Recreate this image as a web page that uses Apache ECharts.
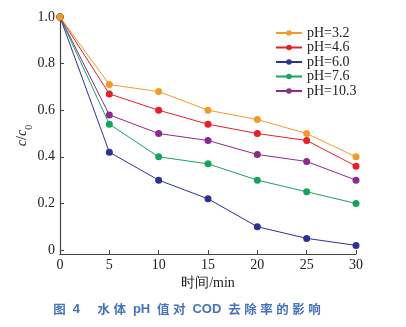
<!DOCTYPE html>
<html>
<head>
<meta charset="utf-8">
<script src="https://cdn.jsdelivr.net/npm/echarts@6/dist/echarts.min.js"></script>
<style>
  html, body { margin: 0; padding: 0; background: #fff; }
  #chart { width: 406px; height: 327px; }
</style>
</head>
<body>
<div id="chart"></div>
<script>
// Reaction time (min)
const times = [0, 5, 10, 15, 20, 25, 30];
// Relative COD concentration c/c0 at each pH
const ph32 = [1.0, 0.71, 0.68, 0.60, 0.56, 0.50, 0.40];
const ph46 = [1.0, 0.67, 0.60, 0.54, 0.50, 0.47, 0.36];
const ph60 = [1.0, 0.42, 0.30, 0.22, 0.10, 0.05, 0.02];
const ph76 = [1.0, 0.54, 0.40, 0.37, 0.30, 0.25, 0.20];
const ph103 = [1.0, 0.58, 0.50, 0.47, 0.41, 0.38, 0.30];
const seriesNames = ['pH=3.2', 'pH=4.6', 'pH=6.0', 'pH=7.6', 'pH=10.3'];
const seriesValues = [ph32, ph46, ph60, ph76, ph103];
const colors = ['#f39a2c', '#e42127', '#2d3192', '#17a35e', '#8b2a90'];
const xTicks = [0, 5, 10, 15, 20, 25, 30];
const yTicks = [0, 0.2, 0.4, 0.6, 0.8, 1.0];
const caption = '图 4    水体 pH 值对 COD 去除率的影响';

const serif = '"Liberation Serif", "DejaVu Serif", serif';
const chart = echarts.init(document.getElementById('chart'), null, { renderer: 'canvas' });

// Caption: CJK glyphs are spread apart one by one, Latin runs stay together.
const spacedCaption = (caption.match(/[\u4e00-\u9fff]|[^\u4e00-\u9fff]+/g) || [])
  .map(part => (/[\u4e00-\u9fff]/.test(part) ? '{c|' + part + '}' : '{l|' + part + '}'))
  .join('');

const series = seriesNames.map((name, i) => ({
  name,
  type: 'line',
  data: times.map((t, j) => [t, seriesValues[i][j]]),
  symbol: 'circle',
  symbolSize: 7,
  lineStyle: { width: 1, color: colors[i] },
  itemStyle: { color: colors[i] },
  z: 10 - i
}));

chart.setOption({
  animation: false,
  backgroundColor: '#fff',
  title: {
    text: spacedCaption,
    left: 182,
    textAlign: 'center',
    top: 298,
    textStyle: {
      rich: {
        c: {
          fontFamily: '"Noto Sans CJK SC", sans-serif',
          fontSize: 12.5,
          fontWeight: 'bold',
          color: '#4572b8',
          padding: [0, 1.75, 0, 1.75]
        },
        l: {
          fontFamily: '"Liberation Sans", Arial, sans-serif',
          fontSize: 13,
          color: '#4572b8',
          padding: [0, 1.5, 0, 1.5]
        }
      }
    }
  },
  legend: {
    data: seriesNames,
    orient: 'vertical',
    left: 275,
    top: 26,
    padding: 0,
    itemWidth: 26,
    itemHeight: 7,
    itemGap: 0.5,
    textStyle: { fontFamily: serif, fontSize: 14, color: '#222' }
  },
  grid: { left: 60, right: 50, top: 17, bottom: 73, containLabel: false, outerBoundsMode: 'none' },
  xAxis: {
    type: 'value',
    min: 0,
    max: 30,
    name: '时间/min',
    nameLocation: 'middle',
    nameGap: 22,
    nameMoveOverlap: false,
    nameTextStyle: { fontFamily: serif, fontSize: 14, color: '#222' },
    axisLine: { onZero: false, lineStyle: { color: '#444', width: 1.2 } },
    axisTick: { inside: true, length: 4, customValues: xTicks, lineStyle: { color: '#444' } },
    axisLabel: { customValues: xTicks, fontFamily: serif, fontSize: 14, color: '#222', margin: 4 },
    splitLine: { show: false }
  },
  yAxis: {
    type: 'value',
    min: -0.017,
    max: 1.0,
    name: '{i|c}/{i|c}{s|0}',
    nameLocation: 'middle',
    nameGap: 31,
    nameMoveOverlap: false,
    nameRotate: 90,
    nameTextStyle: {
      fontFamily: serif,
      fontSize: 14,
      color: '#222',
      rich: {
        i: { fontFamily: serif, fontStyle: 'italic', fontSize: 14, color: '#222' },
        s: { fontFamily: serif, fontSize: 10, color: '#222', verticalAlign: 'bottom', padding: [0, 0, -5, 0] }
      }
    },
    axisLine: { show: true, lineStyle: { color: '#444', width: 1.2 } },
    axisTick: { show: true, inside: true, length: 4, customValues: yTicks, lineStyle: { color: '#444' } },
    axisLabel: {
      customValues: yTicks,
      fontFamily: serif,
      fontSize: 14,
      color: '#222',
      margin: 5,
      formatter: v => (v === 0 ? '0' : v.toFixed(1))
    },
    splitLine: { show: false }
  },
  series
});
</script>
</body>
</html>
